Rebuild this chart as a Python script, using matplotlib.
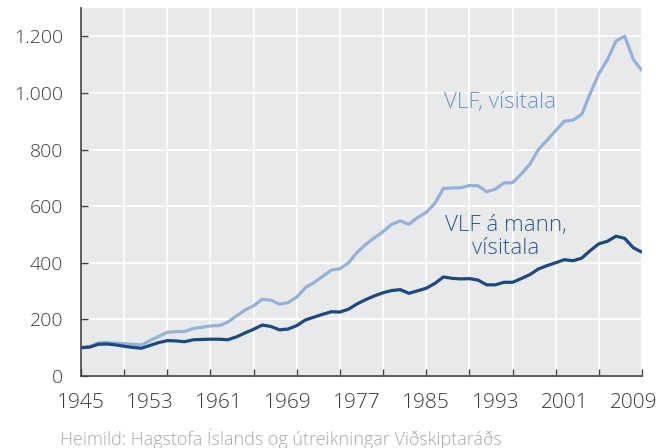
import numpy as np
import matplotlib
matplotlib.use("Agg")
from matplotlib import pyplot as plt
from matplotlib.ticker import FuncFormatter

years = np.arange(1945, 2011)

# VLF, visitala (light line)
vlf = [100, 104, 117, 118, 116, 114, 112, 110, 125, 140,
       154, 157, 157, 168, 172, 177, 178, 190, 212, 233,
       248, 271, 268, 254, 259, 279, 312, 330, 352, 374,
       379, 400, 437, 465, 488, 510, 536, 548, 536, 560,
       578, 610, 663, 664, 665, 673, 672, 651, 660, 682,
       683, 713, 748, 800, 833, 867, 900, 904, 924, 998,
       1068, 1118, 1184, 1200, 1118, 1078]

# VLF a mann, visitala (dark line)
vlf_mann = [100, 102, 112, 113, 110, 105, 101, 98, 108, 118,
            125, 124, 121, 128, 129, 130, 130, 128, 138, 152,
            165, 180, 175, 163, 166, 178, 198, 208, 218, 227,
            226, 236, 255, 270, 283, 294, 302, 305, 292, 301,
            310, 327, 350, 345, 343, 344, 339, 322, 322, 331,
            331, 344, 358, 378, 390, 400, 411, 407, 416, 443,
            467, 476, 494, 486, 453, 437]

label_years = np.arange(1945, 2010, 8)
grid_years = np.arange(1945, 2011, 5)
yticks = np.arange(0, 1201, 200)

light = "#94b1d8"
dark = "#1d4880"
txt = "#3a3a3a"

plt.rcParams['font.family'] = ['Open Sans', 'DejaVu Sans']
plt.rcParams['font.weight'] = 'light'

fig = plt.figure(figsize=(6.59, 4.48), dpi=100)
ax = fig.add_axes([81/659, 72/448, 561/659, 368/448])
ax.set_facecolor("#e8e9eb")

ax.plot(years, vlf, color=light, lw=2.3, solid_capstyle="butt", zorder=3)
ax.plot(years, vlf_mann, color=dark, lw=2.3, solid_capstyle="butt", zorder=4)

ax.set_xlim(1945, 2010)
ax.set_ylim(0, 1300)

ax.xaxis.remove_overlapping_locs = False
ax.set_xticks(grid_years)
ax.set_xticklabels([])
ax.set_xticks(label_years, minor=True)
ax.set_xticklabels([str(y) for y in label_years], minor=True)
ax.set_yticks(yticks)
ax.yaxis.set_major_formatter(FuncFormatter(lambda v, p: f"{int(v):,}".replace(",", ".")))

ax.tick_params(axis="x", which="major", direction="in", length=5, width=1, color="#444444")
ax.tick_params(axis="x", which="minor", length=0, pad=12, labelsize=15, labelcolor=txt)
ax.tick_params(axis="y", direction="in", length=5, width=1, color="#444444",
               pad=13, labelsize=14, labelcolor=txt)

ax.grid(True, which="major", color="white", lw=1.2)
ax.set_axisbelow(True)
for s in ["top", "right"]:
    ax.spines[s].set_visible(False)
for s in ["left", "bottom"]:
    ax.spines[s].set_color("#444444")
    ax.spines[s].set_linewidth(1.2)

ax.text(1993.5, 967, "VLF, vísitala", color="#6f93c6", fontsize=16, ha="center", va="center")
ax.text(1994.2, 492, "VLF á mann,\nvísitala", color="#2f5a92", fontsize=16,
        ha="center", va="center", linespacing=1.15)

fig.text(60/659, 1 - 438/448, "Heimild: Hagstofa Íslands og útreikningar Viðskiptaráðs",
         color="#a6a6a6", fontsize=13, ha="left", va="center")

fig.savefig("out.png", dpi=100)
